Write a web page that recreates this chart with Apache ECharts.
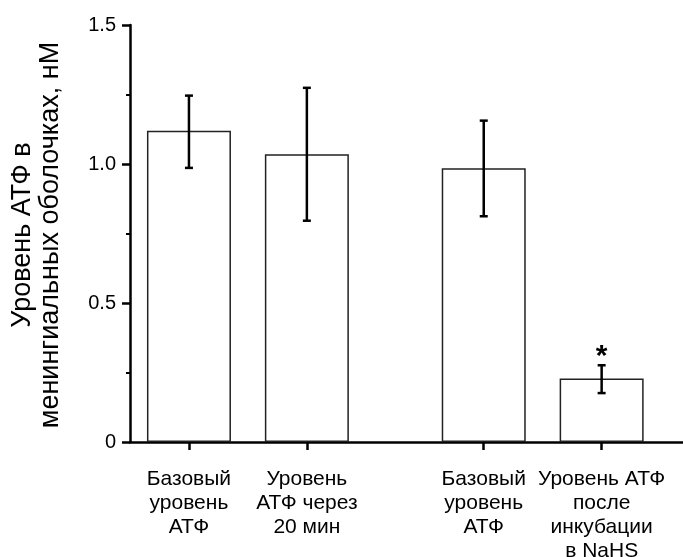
<!DOCTYPE html>
<html>
<head>
<meta charset="UTF-8">
<title>Уровень АТФ</title>
<style>
body { margin: 0; padding: 0; background: #fff; }
#main { width: 683px; height: 557px; }
</style>
</head>
<body>
<div id="main"></div>
<script src="https://cdn.jsdelivr.net/npm/echarts@6/dist/echarts.min.js"></script>
<script>
// данные
var xPos = [1, 2, 3.5, 4.5];
var labels = ['Базовый\nуровень\nАТФ', 'Уровень\nАТФ через\n20 мин', 'Базовый\nуровень\nАТФ', 'Уровень АТФ\nпосле\nинкубации\nв NaHS'];
var means = [1.12, 1.035, 0.985, 0.228];
var errLow = [0.986, 0.796, 0.812, 0.176];
var errHigh = [1.246, 1.274, 1.156, 0.276];
var stars = ['', '', '', '*'];

var font = 'Arial, "Liberation Sans", sans-serif';

var barData = [], errData = [];
for (var i = 0; i < xPos.length; i++) {
    barData.push([xPos[i], means[i]]);
    errData.push([xPos[i], errLow[i], errHigh[i], i]);
}

// подпись оси Y (повернутый текст)
function vtext(str, x, y) {
    return {
        type: 'text',
        x: x, y: y,
        rotation: Math.PI / 2,
        style: {
            text: str,
            fontFamily: font, fontSize: 27, fill: '#000',
            textAlign: 'center', textVerticalAlign: 'middle'
        }
    };
}

var chart = echarts.init(document.getElementById('main'));

var option = {
    animation: false,
    backgroundColor: '#fff',
    grid: { left: 130, right: 0, top: 25, bottom: 115, outerBoundsMode: 'none' },
    xAxis: {
        type: 'value',
        min: 0.5,
        max: 5.19,
        splitLine: { show: false },
        axisLine: { lineStyle: { color: '#000', width: 2.5 } },
        axisTick: {
            customValues: xPos,
            length: 8,
            lineStyle: { color: '#000', width: 2.5 }
        },
        axisLabel: {
            customValues: xPos,
            margin: 25,
            color: '#000',
            fontFamily: font,
            fontSize: 21,
            lineHeight: 24,
            align: 'center',
            verticalAlign: 'top',
            formatter: function (v) {
                var k = xPos.indexOf(v);
                return k >= 0 ? labels[k] : '';
            }
        }
    },
    yAxis: {
        type: 'value',
        min: 0,
        max: 1.5,
        interval: 0.5,
        splitLine: { show: false },
        axisLine: { show: true, lineStyle: { color: '#000', width: 2.5 } },
        axisTick: { show: true, length: 8, lineStyle: { color: '#000', width: 2.5 } },
        minorTick: { show: true, splitNumber: 2, length: 4, lineStyle: { color: '#000', width: 2 } },
        axisLabel: {
            margin: 14,
            color: '#000',
            fontFamily: font,
            fontSize: 20,
            formatter: function (v) {
                return v === 0 ? '0' : v.toFixed(1);
            }
        }
    },
    graphic: [
        vtext('Уровень АТФ в', 23, 235),
        vtext('менингиальных оболочках, нМ', 51, 235)
    ],
    series: [
        {
            type: 'bar',
            data: barData,
            barWidth: 84,
            itemStyle: { color: '#fff', borderColor: '#222', borderWidth: 1.5 },
            z: 2
        },
        {
            type: 'custom',
            data: errData,
            z: 3,
            renderItem: function (params, api) {
                var x = api.value(0);
                var lo = api.coord([x, api.value(1)]);
                var hi = api.coord([x, api.value(2)]);
                var cap = 4;
                var st = { stroke: '#000', lineWidth: 2.5 };
                var children = [
                    { type: 'line', shape: { x1: hi[0], y1: hi[1], x2: lo[0], y2: lo[1] }, style: st },
                    { type: 'line', shape: { x1: hi[0] - cap, y1: hi[1], x2: hi[0] + cap, y2: hi[1] }, style: st },
                    { type: 'line', shape: { x1: lo[0] - cap, y1: lo[1], x2: lo[0] + cap, y2: lo[1] }, style: st }
                ];
                var s = stars[api.value(3)];
                if (s) {
                    children.push({
                        type: 'text',
                        x: hi[0], y: hi[1] - 9,
                        style: {
                            text: s, fontFamily: font, fontSize: 30, fontWeight: 'bold', fill: '#000',
                            textAlign: 'center', textVerticalAlign: 'middle'
                        }
                    });
                }
                return { type: 'group', children: children };
            }
        }
    ]
};

chart.setOption(option);
</script>
</body>
</html>
